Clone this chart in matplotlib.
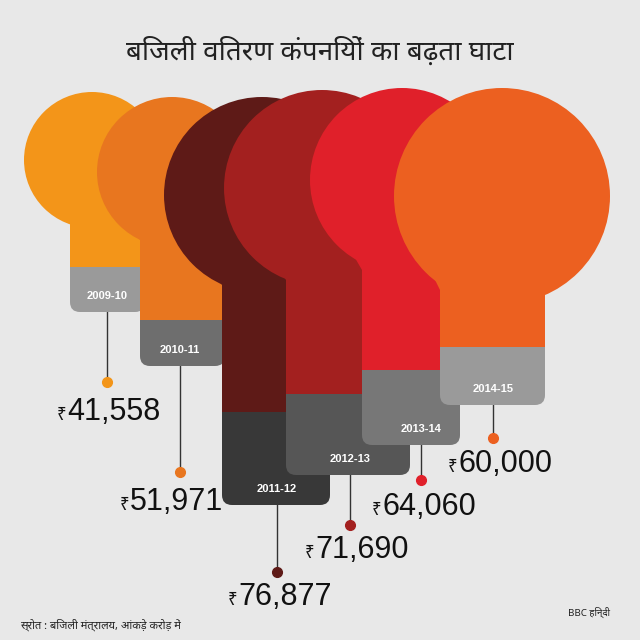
import matplotlib.pyplot as plt
from matplotlib.patches import Circle, Polygon, FancyBboxPatch, Rectangle

plt.rcParams['font.family'] = ['Noto Sans', 'DejaVu Sans', 'Lato']

# data
years = ["2009-10", "2010-11", "2011-12", "2012-13", "2013-14", "2014-15"]
losses = [41558, 51971, 76877, 71690, 64060, 60000]
bulb_colors = ["#F39519", "#E8761F", "#5E1A17", "#A3201F", "#E0202A", "#EC6020"]
base_colors = ["#9A9A9A", "#6E6E6E", "#383838", "#565656", "#777777", "#9A9A9A"]

# layout (pixel space)
cx = [92, 172, 262, 322, 402, 502]
cy = [160, 172, 195, 188, 180, 196]
rad = [68, 75, 98, 98, 92, 108]
neck_x0 = [70, 140, 222, 286, 362, 440]
neck_x1 = [145, 225, 330, 410, 460, 545]
neck_top = [215, 240, 285, 280, 270, 290]
base_top = [265, 318, 410, 392, 368, 345]
base_bot = [312, 366, 505, 475, 445, 405]
stem_x = [107, 180, 277, 350, 421, 493]
dot_y = [382, 472, 572, 525, 480, 438]
lab_xy = [(57, 420), (120, 510), (228, 605), (305, 558), (372, 515), (448, 472)]

fig = plt.figure(figsize=(6.4, 6.4), dpi=100)
fig.patch.set_facecolor("#E8E8E8")
ax = fig.add_axes([0, 0, 1, 1])
ax.set_xlim(0, 640)
ax.set_ylim(640, 0)
ax.axis("off")

for i in range(len(years)):
    z = i * 3
    # stem and dot
    ax.plot([stem_x[i], stem_x[i]], [base_bot[i], dot_y[i]], color="#333333", lw=1, zorder=z)
    ax.plot(stem_x[i], dot_y[i], "o", color=bulb_colors[i], ms=7, zorder=z)
    # base
    ax.add_patch(FancyBboxPatch((neck_x0[i], base_top[i]), neck_x1[i] - neck_x0[i],
                                base_bot[i] - base_top[i],
                                boxstyle="round,pad=0,rounding_size=10",
                                fc=base_colors[i], ec="none", zorder=z + 1))
    ax.add_patch(Rectangle((neck_x0[i], base_top[i]), neck_x1[i] - neck_x0[i],
                           (base_bot[i] - base_top[i]) / 2, fc=base_colors[i], ec="none", zorder=z + 1))
    # bulb
    ax.add_patch(Circle((cx[i], cy[i]), rad[i], fc=bulb_colors[i], ec="none", zorder=z + 2))
    ax.add_patch(Polygon([(cx[i] - rad[i], cy[i]), (cx[i] + rad[i], cy[i]),
                          (neck_x1[i], neck_top[i]), (neck_x1[i], base_top[i] + 2),
                          (neck_x0[i], base_top[i] + 2), (neck_x0[i], neck_top[i])],
                         fc=bulb_colors[i], ec="none", zorder=z + 2))
    ax.text(stem_x[i], base_bot[i] - 16, years[i], color="white", fontsize=8,
            fontweight="bold", family="Liberation Sans", ha="center", va="center", zorder=z + 2)
    x, y = lab_xy[i]
    ax.text(x, y, "₹", fontsize=12, ha="left", va="baseline", color="#111111", zorder=20)
    ax.text(x + 10, y, f"{losses[i]:,}", fontsize=22, family="Liberation Sans",
            ha="left", va="baseline", color="#111111", zorder=20)

ax.text(320, 52, "बिजली वितरण कंपनियों का बढ़ता घाटा", fontsize=20, ha="center",
        va="center", color="#222222")
ax.text(20, 625, "स्रोत : बिजली मंत्रालय, आंकड़े करोड़ में", fontsize=8, ha="left",
        va="center", color="#222222")
ax.text(568, 612, "BBC हिन्दी", fontsize=7, ha="left", va="center", color="#222222")

fig.savefig("out.png", dpi=100, facecolor=fig.get_facecolor())
